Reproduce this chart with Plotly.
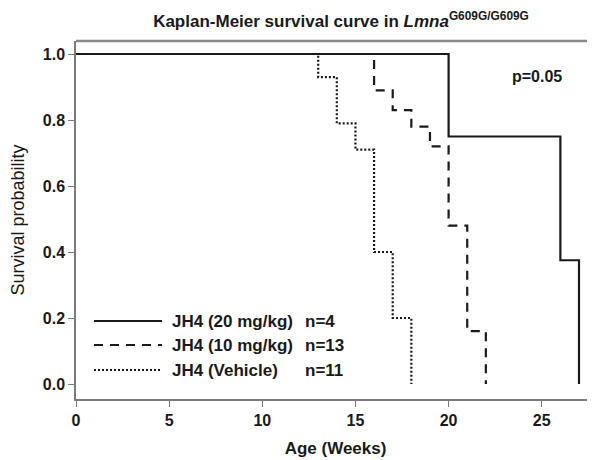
import plotly.graph_objects as go

# Data
weeks_20 = [0, 20, 26, 27]
surv_20 = [1.0, 0.75, 0.375, 0.0]
weeks_10 = [0, 16, 17, 18, 19, 20, 21, 22]
surv_10 = [1.0, 0.89, 0.83, 0.78, 0.72, 0.48, 0.16, 0.0]
weeks_veh = [0, 13, 14, 15, 16, 17, 18]
surv_veh = [1.0, 0.93, 0.79, 0.71, 0.40, 0.20, 0.0]

group_names = ["JH4 (20 mg/kg)", "JH4 (10 mg/kg)", "JH4 (Vehicle)"]
group_n = ["n=4", "n=13", "n=11"]
x_ticks = [0, 5, 10, 15, 20, 25]
y_ticks = [0.0, 0.2, 0.4, 0.6, 0.8, 1.0]

FONT = "Liberation Sans, Arial, sans-serif"
INK = "#1a1a1a"
dashes = ["solid", "9px,7px", "2px,2px"]

# page body has an 8px margin: shrink figure so the drawing lands at the reference spot
OFF = 8
FW, FH = 595 - OFF, 460 - OFF

fig = go.Figure()
series = [(weeks_veh, surv_veh, 2), (weeks_10, surv_10, 1), (weeks_20, surv_20, 0)]
for xs, ys, i in series:
    fig.add_trace(go.Scatter(
        x=xs, y=ys, mode="lines", name=group_names[i],
        line=dict(color=INK, width=2.2, dash=dashes[i], shape="hv"),
        showlegend=False,
    ))

# plot area in screen pixels: x 76..595, y 41..399
L, R, T, B = 76, 595, 41, 399
W, H = R - L, B - T

def px(x):
    return (x - L) / W

def py(y):
    return (B - y) / H

shapes = []
annotations = []
rows = [321, 345, 370]
for i in range(3):
    shapes.append(dict(type="line", xref="paper", yref="paper",
                       x0=px(94), x1=px(162), y0=py(rows[i]), y1=py(rows[i]),
                       line=dict(color=INK, width=2.2, dash=dashes[i])))
    annotations.append(dict(xref="paper", yref="paper", x=px(170), y=py(rows[i]),
                            text="<b>%s</b>" % group_names[i], showarrow=False,
                            xanchor="left", yanchor="middle",
                            font=dict(family=FONT, size=17, color=INK)))
    annotations.append(dict(xref="paper", yref="paper", x=px(303), y=py(rows[i]),
                            text="<b>%s</b>" % group_n[i], showarrow=False,
                            xanchor="left", yanchor="middle",
                            font=dict(family=FONT, size=17, color=INK)))

# top frame border
shapes.append(dict(type="line", xref="paper", yref="paper", x0=0, x1=1, y0=1, y1=1,
                   line=dict(color="#8a8a8a", width=2.5)))

annotations.append(dict(xref="paper", yref="paper", x=px(537), y=py(76),
                        text="<b>p=0.05</b>", showarrow=False,
                        xanchor="center", yanchor="middle",
                        font=dict(family=FONT, size=16, color=INK)))

fig.update_layout(
    width=FW, height=FH,
    margin=dict(l=L - OFF, r=595 - R, t=T - OFF, b=460 - B),
    paper_bgcolor="white", plot_bgcolor="white",
    shapes=shapes, annotations=annotations,
    title=dict(text="<b>Kaplan-Meier survival curve in <i>Lmna</i><sup>G609G/G609G</sup></b>",
               x=(341 - OFF) / FW, xanchor="center", y=1 - (21 - OFF) / FH, yanchor="middle",
               font=dict(family=FONT, size=17, color=INK)),
    xaxis=dict(range=[0, (R - L) / 18.63], tickvals=x_ticks, ticks="outside", ticklen=6,
               tickcolor="#7a7a7a", showline=True, linecolor="#7a7a7a", linewidth=1.5,
               showgrid=False, zeroline=False,
               tickfont=dict(family=FONT, size=16, color=INK, weight="bold"),
               title=dict(text="<b>Age (Weeks)</b>", standoff=14,
                          font=dict(family=FONT, size=17, color=INK))),
    yaxis=dict(range=[-15 / 330, 1 + 13 / 330], tickvals=y_ticks, tickformat=".1f",
               ticks="outside", ticklen=6, tickcolor="#7a7a7a",
               showline=True, linecolor="#7a7a7a", linewidth=1.5,
               showgrid=False, zeroline=False,
               tickfont=dict(family=FONT, size=16, color=INK, weight="bold"),
               title=dict(text="Survival probability", standoff=13,
                          font=dict(family=FONT, size=18, color=INK))),
)

fig.write_html("out.html")
